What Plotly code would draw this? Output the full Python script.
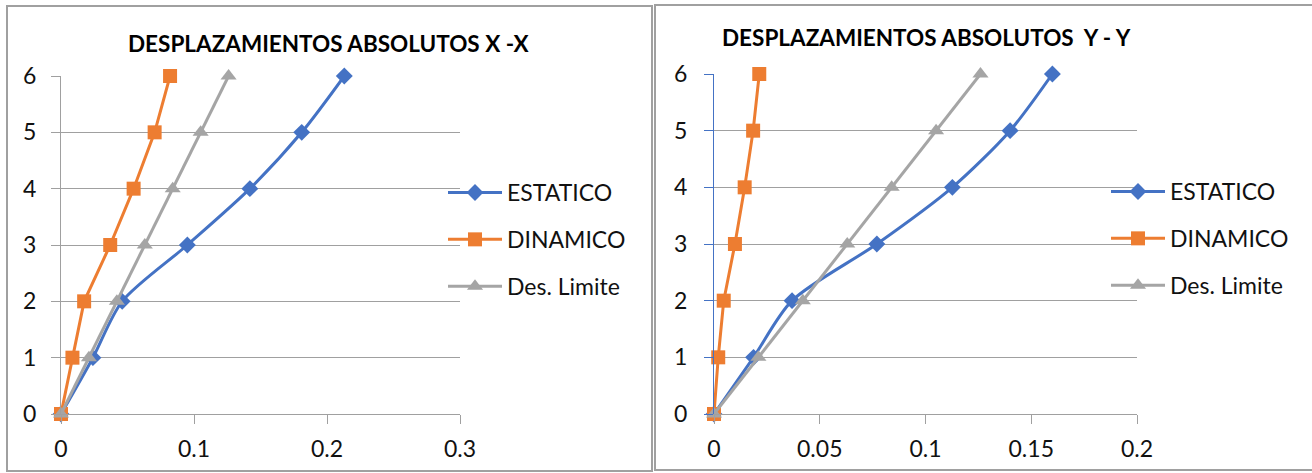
import plotly.graph_objects as go

# Storey levels (vertical axis)
niveles = [0, 1, 2, 3, 4, 5, 6]

# Absolute displacements, X - X direction
estatico_x = [0, 0.024, 0.046, 0.095, 0.142, 0.181, 0.213]
dinamico_x = [0, 0.0086, 0.0174, 0.037, 0.0546, 0.0704, 0.082]
limite_x = [0, 0.021, 0.042, 0.063, 0.084, 0.105, 0.126]

# Absolute displacements, Y - Y direction
estatico_y = [0, 0.0187, 0.0369, 0.077, 0.1127, 0.140, 0.160]
dinamico_y = [0, 0.002, 0.0046, 0.0099, 0.0145, 0.0185, 0.0214]
limite_y = [0, 0.021, 0.042, 0.063, 0.084, 0.105, 0.126]

titulo_x = "DESPLAZAMIENTOS ABSOLUTOS X -X"
titulo_y = "DESPLAZAMIENTOS ABSOLUTOS  Y - Y"

ticks_x = [0, 0.1, 0.2, 0.3]
ticks_x_txt = ["0", "0.1", "0.2", "0.3"]
ticks_y = [0, 0.05, 0.1, 0.15, 0.2]
ticks_y_txt = ["0", "0.05", "0.1", "0.15", "0.2"]

W, H = 1312, 473
FONT = "Lato"
AZUL, NARANJA, GRIS = "#4472C4", "#ED7D31", "#A5A5A5"
GRID = "#A0A0A0"


def px(x):
    return x / W


def py(y):
    return (H - y) / H


fig = go.Figure()

series = [
    ("ESTATICO", AZUL, "diamond", 13, "spline"),
    ("DINAMICO", NARANJA, "square", 14, "linear"),
    ("Des. Limite", GRIS, "triangle-up", 14, "linear"),
]

for datos, ax, leg in [
    ((estatico_x, dinamico_x, limite_x), ("x", "y"), "legend"),
    ((estatico_y, dinamico_y, limite_y), ("x2", "y2"), "legend2"),
]:
    for (nombre, color, simbolo, tam, forma), valores in zip(series, datos):
        fig.add_trace(go.Scatter(
            x=valores, y=niveles, name=nombre, mode="lines+markers",
            line=dict(color=color, width=3, shape=forma, smoothing=0.8),
            marker=dict(symbol=simbolo, size=tam, color=color),
            xaxis=ax[0], yaxis=ax[1], legend=leg, legendgroup=leg + nombre,
            cliponaxis=False,
        ))

eje_comun = dict(
    showgrid=False, zeroline=False, showline=True, linecolor=GRID, linewidth=1,
    ticks="outside", ticklen=9, tickcolor=GRID, tickwidth=1,
    tickfont=dict(family=FONT, size=23, color="#111111"),
)
leyenda = dict(xanchor="left", yanchor="top",
               font=dict(family=FONT, size=23, color="#111111"),
               bgcolor="rgba(0,0,0,0)", itemwidth=54, tracegroupgap=14)
fig.update_layout(
    width=W, height=H,
    margin=dict(l=0, r=0, t=0, b=0, pad=0, autoexpand=False),
    paper_bgcolor="white", plot_bgcolor="white",
    showlegend=True,
    xaxis=dict(eje_comun, domain=[px(61), px(460)], range=[0, 0.3],
               tickvals=ticks_x, ticktext=ticks_x_txt, anchor="y",
               ticklabelstandoff=5),
    yaxis=dict(eje_comun, domain=[py(414), py(76)], range=[0, 6], dtick=1,
               showgrid=True, gridcolor=GRID, gridwidth=1, anchor="x",
               ticklabelstandoff=10),
    xaxis2=dict(eje_comun, domain=[px(714), px(1137)], range=[0, 0.2],
                tickvals=ticks_y, ticktext=ticks_y_txt, anchor="y2",
                ticklabelstandoff=5),
    yaxis2=dict(eje_comun, domain=[py(414), py(74)], range=[0, 6], dtick=1,
                showgrid=True, gridcolor=GRID, gridwidth=1, anchor="x2",
                linecolor=AZUL, tickcolor=AZUL, ticklabelstandoff=12),
    legend=dict(leyenda, x=px(443), y=py(171)),
    legend2=dict(leyenda, x=px(1106), y=py(170)),
)

# Chart titles
fig.add_annotation(x=px(329), y=py(43), xref="paper", yref="paper",
                   xanchor="center", yanchor="middle",
                   text="<b>" + titulo_x + "</b>", showarrow=False,
                   font=dict(family=FONT, size=22.5, color="black"))
fig.add_annotation(x=px(926), y=py(37), xref="paper", yref="paper",
                   xanchor="center", yanchor="middle",
                   text="<b>" + titulo_y + "</b>", showarrow=False,
                   font=dict(family=FONT, size=22.5, color="black"))

# Chart frames
for x0, x1, y0, y1 in [(7, 652, 6, 471), (655, 1320, 5, 470)]:
    fig.add_shape(type="rect", xref="paper", yref="paper",
                  x0=px(x0), x1=px(x1), y0=py(y1), y1=py(y0),
                  line=dict(color="#A0A0A0", width=2))

fig.write_html("out.html")
